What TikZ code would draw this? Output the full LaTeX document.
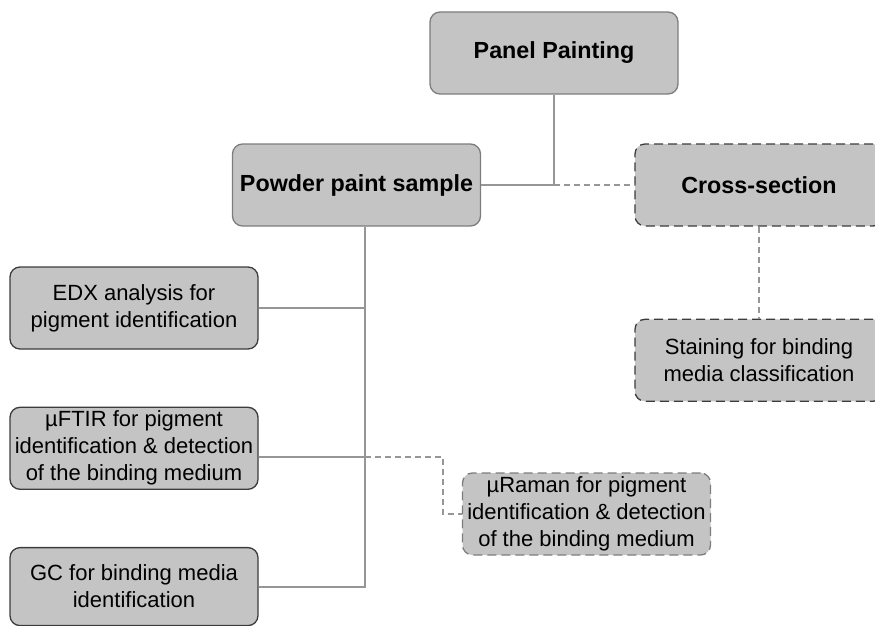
\documentclass[tikz,border=0pt]{standalone}
\usepackage{fontspec}
\setmainfont{Liberation Sans}
\usetikzlibrary{positioning}

\definecolor{boxfill}{RGB}{196,196,196}
\definecolor{edgegray}{RGB}{125,125,125}
\definecolor{edgedark}{RGB}{60,60,60}
\definecolor{linkgray}{RGB}{150,150,150}

\tikzset{
  box/.style={rounded corners=10pt, fill=boxfill, draw=edgedark, line width=1.3pt,
    minimum width=248pt, minimum height=82pt, align=center, inner sep=2pt,
    font=\fontsize{22pt}{27pt}\selectfont},
  headbox/.style={box, draw=edgegray, font=\fontsize{23.3pt}{28pt}\selectfont\bfseries},
  cutbox/.style={dash pattern=on 9pt off 5pt},
  link/.style={draw=linkgray, line width=1.8pt},
  dashlink/.style={link, dash pattern=on 6pt off 4pt},
}

\begin{document}
\begin{tikzpicture}[x=1pt, y=-1pt]
    \useasboundingbox (0,0) rectangle (875,626);

    % sample tree
    \node[headbox] (panel) at (554,53) {Panel Painting};
    \node[headbox] (powder) at (356.5,185) {Powder paint sample};
    \node[headbox, cutbox, draw=edgedark] (cross) at (759,185) {Cross-section};
    \node[box, cutbox, below=92pt of cross] (stain) {Staining for binding\\media classification};

    % analyses of the powder
    \node[box] (edx) at (134,308) {EDX analysis for\\pigment identification};
    \node[box, below=57pt of edx] (ftir) {µFTIR for pigment\\identification \& detection\\of the binding medium};
    \node[box, minimum height=78pt, below=57pt of ftir] (gc) {GC for binding media\\identification};
    \node[box, cutbox, draw=edgegray] (raman) at (586.5,514) {µRaman for pigment\\identification \& detection\\of the binding medium};

    \coordinate (fork) at (panel.south |- powder.east);
    \coordinate (top) at ([xshift=8.5pt]powder.south);
    \coordinate (tap) at ([yshift=-9pt]ftir.east);

    \draw[link] (panel.south) -- (fork) -- (powder.east);
    \draw[dashlink] (fork) -- (cross.west);
    \draw[dashlink] (cross.south) -- (stain.north);

    \draw[link] (top) |- (gc.east);
    \draw[link] (edx.east) -- (edx.east -| top);
    \draw[link] (tap) -- (tap -| top);
    \draw[dashlink] (tap -| top) -- ++(78,0) |- (raman.west);
\end{tikzpicture}
\end{document}
